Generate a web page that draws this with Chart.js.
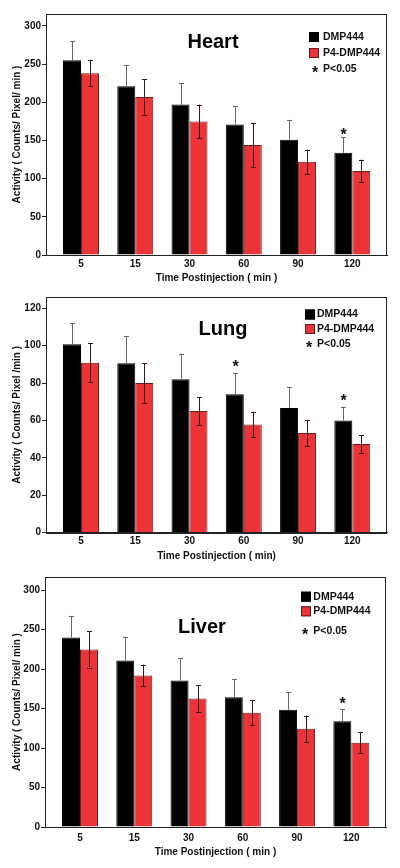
<!DOCTYPE html>
<html lang="en">
<head>
<meta charset="UTF-8">
<title>DMP444 vs P4-DMP444 activity</title>
<script src="https://cdn.jsdelivr.net/npm/chart.js"></script>
<style>
  body { margin: 0; background: #fff; }
  .panel { position: absolute; left: 0; width: 400px; }
</style>
</head>
<body>
<div class="panel" style="top:0;height:290px"><canvas id="heartChart"></canvas></div>
<div class="panel" style="top:290px;height:280px"><canvas id="lungChart"></canvas></div>
<div class="panel" style="top:570px;height:298px"><canvas id="liverChart"></canvas></div>
<script>
const timePoints = ['5', '15', '30', '60', '90', '120'];

const heartDmp = [255, 221, 197, 171, 151, 134];
const heartDmpErr = [25, 28, 28, 24, 26, 20];
const heartP4 = [238, 207, 175, 144, 122, 110];
const heartP4Err = [17, 23, 22, 29, 16, 15];
const heartSig = [false, false, false, false, false, true];

const lungDmp = [100.7, 90.6, 82, 74, 66.7, 60];
const lungDmpErr = [11.4, 14.4, 13.7, 11.4, 11.3, 7.3];
const lungP4 = [90.9, 80, 65, 57.8, 53.3, 47.4];
const lungP4Err = [10.4, 10.5, 7.5, 6.5, 7, 4.8];
const lungSig = [false, false, false, true, false, true];

const liverDmp = [240, 210.7, 185.6, 164.4, 148.5, 133.9];
const liverDmpErr = [27.4, 30.3, 28.4, 22.9, 22.1, 15];
const liverP4 = [224.9, 191.9, 162.7, 144.8, 124.3, 106.8];
const liverP4Err = [23, 13.8, 16.5, 15.7, 16.7, 13.6];
const liverSig = [false, false, false, false, false, true];

const FONT = "'Liberation Sans', Arial, sans-serif";
const RED = '#ec3338';
Chart.defaults.font.family = FONT;
Chart.defaults.color = '#111';

// error bars, significance stars, frame, organ title and legend
const panelDecor = {
    id: 'panelDecor',
    afterDatasetsDraw(chart) {
        const ctx = chart.ctx;
        const y = chart.scales.y;
        const o = chart.options.plugins.panelDecor;
        chart.data.datasets.forEach((ds, di) => {
            const meta = chart.getDatasetMeta(di);
            meta.data.forEach((bar, i) => {
                const v = ds.data[i].y, e = ds.errors[i];
                const top = y.getPixelForValue(v + e);
                const bot = ds.errLower ? y.getPixelForValue(v - e) : bar.y;
                ctx.save();
                ctx.strokeStyle = ds.errColor;
                ctx.lineWidth = 1;
                ctx.beginPath();
                const x = Math.round(bar.x) + 0.5;
                ctx.moveTo(x, top);
                ctx.lineTo(x, bot);
                ctx.moveTo(x - 2.5, Math.round(top) + 0.5);
                ctx.lineTo(x + 2.5, Math.round(top) + 0.5);
                if (ds.errLower) {
                    ctx.moveTo(x - 2.5, Math.round(bot) + 0.5);
                    ctx.lineTo(x + 2.5, Math.round(bot) + 0.5);
                }
                ctx.stroke();
                if (ds.sig && ds.sig[i]) {
                    ctx.fillStyle = '#111';
                    ctx.font = 'bold 16px ' + FONT;
                    ctx.textAlign = 'center';
                    ctx.textBaseline = 'alphabetic';
                    ctx.fillText('*', x, top + o.starGap);
                }
                ctx.restore();
            });
        });
    },
    afterDraw(chart) {
        const ctx = chart.ctx;
        const a = chart.chartArea;
        const o = chart.options.plugins.panelDecor;
        ctx.save();
        ctx.strokeStyle = '#222';
        ctx.lineWidth = 1;
        ctx.strokeRect(Math.round(a.left) + 0.5, Math.round(a.top) + 0.5,
            Math.round(a.right - a.left) - 1, Math.round(a.bottom - a.top));

        ctx.fillStyle = '#000';
        ctx.font = 'bold 20px ' + FONT;
        ctx.textAlign = 'center';
        ctx.textBaseline = 'middle';
        ctx.fillText(o.organ, a.left + o.titleX, a.top + o.titleY);

        const lg = o.legend;
        const items = chart.data.datasets;
        ctx.font = 'bold 10.5px ' + FONT;
        ctx.textAlign = 'left';
        items.forEach((ds, k) => {
            const ry = a.top + lg.rows[k];
            ctx.fillStyle = ds.backgroundColor;
            ctx.fillRect(a.right + lg.sqX, ry - 5, 10, 10);
            ctx.strokeStyle = ds.borderColor;
            ctx.strokeRect(a.right + lg.sqX + 0.5, ry - 4.5, 9, 9);
            ctx.fillStyle = '#111';
            ctx.fillText(ds.label, a.right + lg.textX, ry);
        });
        const sy = a.top + lg.rows[2];
        ctx.fillText('P<0.05', a.right + lg.textX, sy);
        ctx.font = 'bold 16px ' + FONT;
        ctx.textAlign = 'center';
        ctx.textBaseline = 'alphabetic';
        ctx.fillText('*', a.right + lg.starX, sy + 9);
        ctx.restore();
    }
};

function makePanel(id, p) {
    new Chart(document.getElementById(id), {
        type: 'bar',
        data: {
            datasets: [{
                label: 'DMP444',
                data: p.dmp.map((v, i) => ({ x: i, y: v })),
                errors: p.dmpErr,
                errLower: false,
                errColor: '#666',
                sig: p.sig,
                backgroundColor: '#000',
                borderColor: '#000',
                borderWidth: 1
            }, {
                label: 'P4-DMP444',
                data: p.p4.map((v, i) => ({ x: i, y: v })),
                errors: p.p4Err,
                errLower: true,
                errColor: '#3a1414',
                backgroundColor: RED,
                borderColor: '#6a1c1c',
                borderWidth: 1
            }]
        },
        options: {
            responsive: true,
            maintainAspectRatio: false,
            animation: false,
            layout: { padding: { top: p.padTop, right: p.padRight, left: 0, bottom: 0 } },
            categoryPercentage: 0.663,
            barPercentage: 1,
            plugins: {
                legend: { display: false },
                tooltip: { enabled: false },
                panelDecor: {
                    organ: p.organ,
                    titleX: p.titleX,
                    titleY: p.titleY,
                    starGap: p.starGap,
                    legend: p.legend
                }
            },
            scales: {
                x: {
                    type: 'linear',
                    min: -0.645,
                    max: 5.639,
                    offset: false,
                    afterBuildTicks: s => { s.ticks = timePoints.map((t, i) => ({ value: i })); },
                    afterFit: s => { s.height = p.xHeight; },
                    grid: { display: false, drawTicks: false, tickLength: 0 },
                    border: { display: true, color: '#222', width: 1 },
                    ticks: {
                        padding: p.xTickPad,
                        autoSkip: false,
                        maxRotation: 0,
                        font: { size: 10, weight: 'bold' },
                        color: '#111',
                        callback: v => timePoints[v]
                    },
                    title: {
                        display: true,
                        text: p.xTitle,
                        font: { size: 10, weight: 'bold' },
                        color: '#111',
                        padding: { top: 0, bottom: p.xTitlePad }
                    }
                },
                y: {
                    min: 0,
                    max: p.yMax,
                    afterFit: s => { s.width = p.yWidth; },
                    grid: { drawOnChartArea: false, drawTicks: true, tickLength: 4, color: '#222' },
                    border: { display: true, color: '#222', width: 1 },
                    ticks: {
                        stepSize: p.yStep,
                        includeBounds: false,
                        padding: 1,
                        font: { size: 10, weight: 'bold' },
                        color: '#111'
                    },
                    title: {
                        display: true,
                        text: p.yTitle,
                        font: { size: 10, weight: 'bold' },
                        color: '#111',
                        padding: { top: 11, bottom: 0 }
                    }
                }
            }
        },
        plugins: [panelDecor]
    });
}

makePanel('heartChart', {
    organ: 'Heart', dmp: heartDmp, dmpErr: heartDmpErr, p4: heartP4, p4Err: heartP4Err, sig: heartSig,
    yMax: 315.7, yStep: 50,
    yTitle: 'Activity ( Counts/ Pixel/ min )', xTitle: 'Time Postinjection ( min )',
    height: 290, padTop: 14, padRight: 13, xHeight: 35, yWidth: 46, xTickPad: 3, xTitlePad: 6,
    titleX: 167, titleY: 28.5, starGap: 3,
    legend: { sqX: -78, textX: -64, starX: -72, rows: [23, 39, 55] }
});

makePanel('lungChart', {
    organ: 'Lung', dmp: lungDmp, dmpErr: lungDmpErr, p4: lungP4, p4Err: lungP4Err, sig: lungSig,
    yMax: 126, yStep: 20,
    yTitle: 'Activity ( Counts/ Pixel /min )', xTitle: 'Time Postinjection ( min)',
    height: 280, padTop: 7, padRight: 13, xHeight: 37.3, yWidth: 46, xTickPad: 3, xTitlePad: 8,
    titleX: 177, titleY: 32, starGap: -1,
    legend: { sqX: -82, textX: -70, starX: -78, rows: [17.5, 32, 47] }
});

makePanel('liverChart', {
    organ: 'Liver', dmp: liverDmp, dmpErr: liverDmpErr, p4: liverP4, p4Err: liverP4Err, sig: liverSig,
    yMax: 316.6, yStep: 50,
    yTitle: 'Activity ( Counts/ Pixel/ min )', xTitle: 'Time Postinjection ( min )',
    height: 298, padTop: 4, padRight: 14, xHeight: 41, yWidth: 45, xTickPad: 5.7, xTitlePad: 9.3,
    titleX: 157, titleY: 50.7, starGap: 0,
    legend: { sqX: -85, textX: -72.7, starX: -81, rows: [19.7, 34.3, 54] }
});
</script>
</body>
</html>
